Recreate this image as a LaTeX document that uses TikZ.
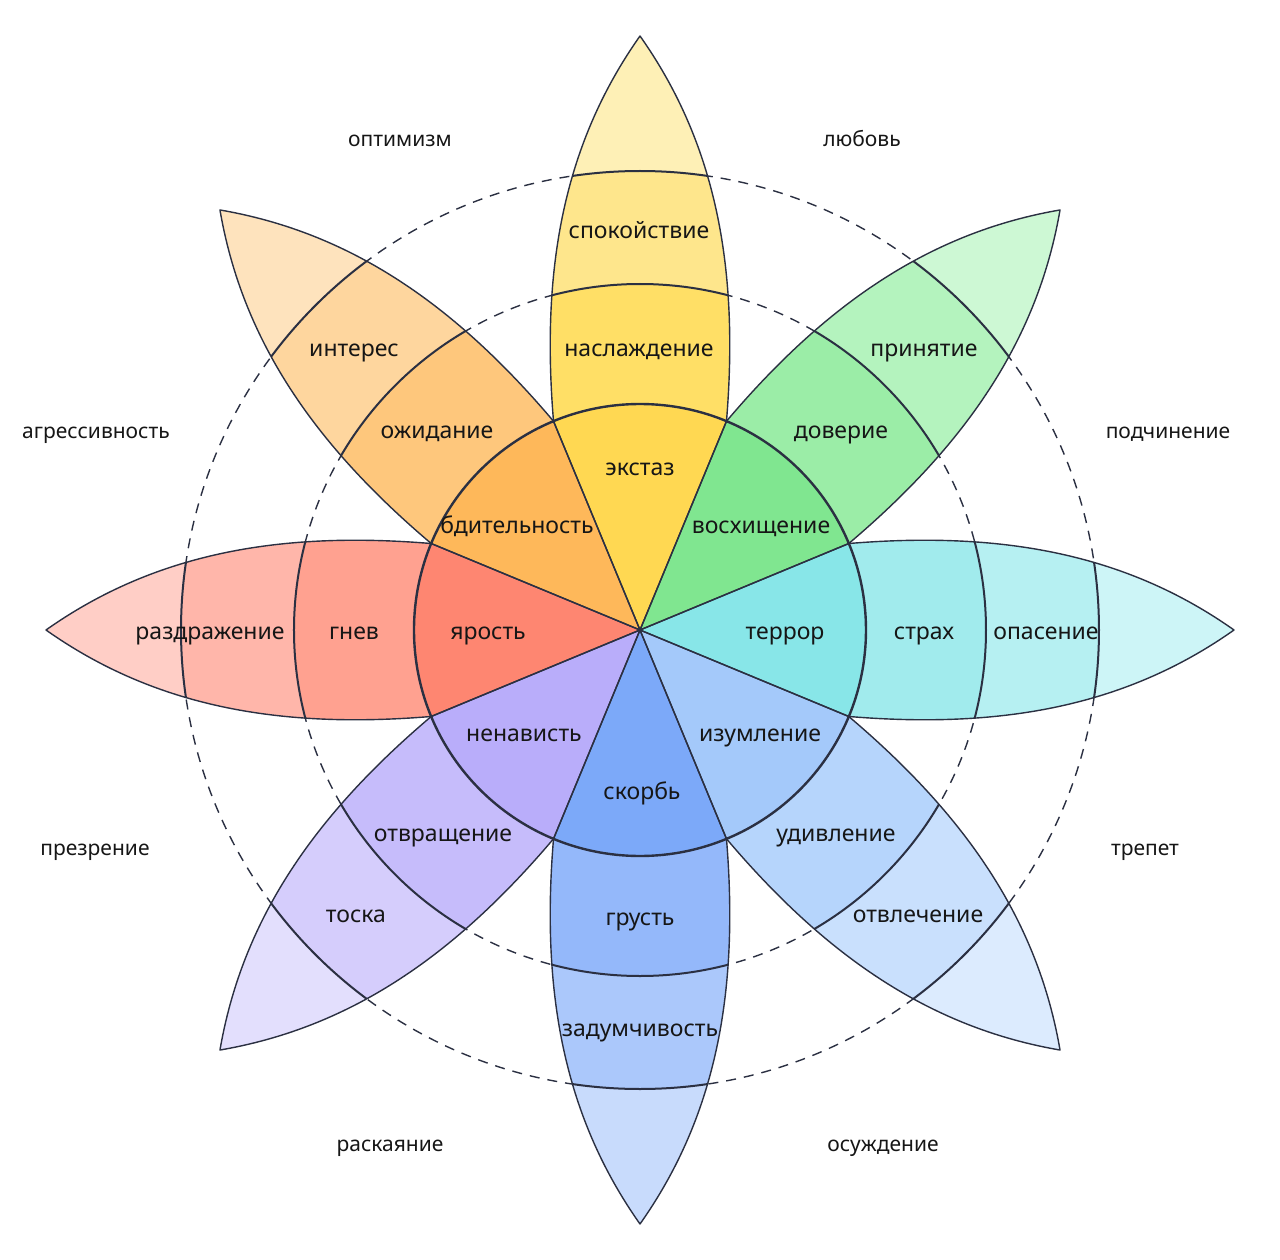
\documentclass[tikz,border=0pt]{standalone}
\usepackage{fontspec}
\setmainfont{Noto Sans}

\definecolor{inkline}{HTML}{2B3042}
\definecolor{inktext}{HTML}{161616}
% yellow
\definecolor{yelin}{HTML}{FFD852}
\definecolor{yelmid}{HTML}{FFDF66}
\definecolor{yelout}{HTML}{FEE68C}
\definecolor{yeltip}{HTML}{FEF0B6}
% green
\definecolor{grnin}{HTML}{80E690}
\definecolor{grnmid}{HTML}{9BEDA7}
\definecolor{grnout}{HTML}{B4F3BE}
\definecolor{grntip}{HTML}{CDF8D4}
% cyan
\definecolor{cynin}{HTML}{88E6E8}
\definecolor{cynmid}{HTML}{A1EBED}
\definecolor{cynout}{HTML}{B6F0F2}
\definecolor{cyntip}{HTML}{CDF5F7}
% light blue
\definecolor{skyin}{HTML}{A4C9FA}
\definecolor{skymid}{HTML}{B6D5FC}
\definecolor{skyout}{HTML}{C9E0FD}
\definecolor{skytip}{HTML}{DCEBFE}
% blue
\definecolor{bluin}{HTML}{7CA9F9}
\definecolor{blumid}{HTML}{94B8FA}
\definecolor{bluout}{HTML}{ABC8FB}
\definecolor{blutip}{HTML}{C8DBFC}
% violet
\definecolor{vioin}{HTML}{B9ADFA}
\definecolor{viomid}{HTML}{C6BCFB}
\definecolor{vioout}{HTML}{D5CDFC}
\definecolor{viotip}{HTML}{E3DFFD}
% red
\definecolor{redin}{HTML}{FE8671}
\definecolor{redmid}{HTML}{FFA190}
\definecolor{redout}{HTML}{FFB6AA}
\definecolor{redtip}{HTML}{FFCEC6}
% orange
\definecolor{orgin}{HTML}{FEB85A}
\definecolor{orgmid}{HTML}{FEC77C}
\definecolor{orgout}{HTML}{FED69E}
\definecolor{orgtip}{HTML}{FEE3BD}

\tikzset{
  guide ring/.style={draw=inkline, line width=0.7pt, dash pattern=on 5pt off 4pt},
  band line/.style={draw=inkline, line width=1pt},
  petal line/.style={draw=inkline, line width=0.7pt, line join=round},
  ring line/.style={draw=inkline, line width=1.2pt},
  emo/.style={inner sep=0pt, text height=1.55ex, text depth=0pt, text=inktext,
    font=\fontsize{11.5}{14}\selectfont},
  dyad/.style={emo, font=\fontsize{10.5}{13}\selectfont},
}
% one petal pointing along +x, wedge inside the ring
\newcommand{\petalpath}{(0,0) -- (-22.5:226) .. controls (360,-99) and (485,-77) .. (594,0) .. controls (485,77) and (360,99) .. (22.5:226) -- cycle}

\begin{document}
\begin{tikzpicture}[x=0.5pt,y=0.5pt]
\useasboundingbox (-640,-629) rectangle (640,630);

% dashed guide rings
\draw[guide ring] (0,0) circle (346);
\draw[guide ring] (0,0) circle (459);

% petal fills
\foreach \ang/\ctip/\cout/\cmid/\cin in {90/yeltip/yelout/yelmid/yelin, 45/grntip/grnout/grnmid/grnin,
    0/cyntip/cynout/cynmid/cynin, -45/skytip/skyout/skymid/skyin, -90/blutip/bluout/blumid/bluin,
    -135/viotip/vioout/viomid/vioin, 180/redtip/redout/redmid/redin, 135/orgtip/orgout/orgmid/orgin}{
  \begin{scope}[rotate=\ang]
    \fill[\ctip] \petalpath;
    \begin{scope}
      \clip \petalpath;
      \fill[\cout] (0,0) circle (459);
      \fill[\cmid] (0,0) circle (346);
      \fill[\cin] (0,0) circle (226);
    \end{scope}
  \end{scope}
}

% petal outlines and band borders
\foreach \ang in {90,45,0,-45,-90,-135,180,135}{
  \begin{scope}[rotate=\ang]
    \begin{scope}
      \clip \petalpath;
      \draw[band line] (0,0) circle (459) (0,0) circle (346);
    \end{scope}
    \draw[petal line] \petalpath;
  \end{scope}
}
\draw[ring line] (0,0) circle (226);

% inner ring
\node[emo] (ecstasy) at (0,163) {экстаз};
\node[emo] (vigilance) at (-123,105) {бдительность};
\node[emo] (admiration) at (121,105) {восхищение};
\node[emo] (rage) at (-152,-1) {ярость};
\node[emo] (terror) at (145,-1) {террор};
\node[emo] (loathing) at (-116,-103) {ненависть};
\node[emo] (amazement) at (120,-103) {изумление};
\node[emo] (grief) at (2,-161) {скорбь};

% middle ring
\node[emo] (joy) at (-1,282) {наслаждение};
\node[emo] (anticipation) at (-203,200) {ожидание};
\node[emo] (trust) at (201,200) {доверие};
\node[emo] (anger) at (-286,-1) {гнев};
\node[emo] (fear) at (284,-1) {страх};
\node[emo] (disgust) at (-197,-203) {отвращение};
\node[emo] (surprise) at (196,-203) {удивление};
\node[emo] (sadness) at (0,-287) {грусть};

% outer ring
\node[emo] (serenity) at (-1,400) {спокойствие};
\node[emo] (interest) at (-286,282) {интерес};
\node[emo] (acceptance) at (284,282) {принятие};
\node[emo] (annoyance) at (-430,-1) {раздражение};
\node[emo] (apprehension) at (406,-1) {опасение};
\node[emo] (boredom) at (-284,-284) {тоска};
\node[emo] (distraction) at (278,-284) {отвлечение};
\node[emo] (pensiveness) at (0,-398) {задумчивость};

% dyads
\node[dyad] (optimism) at (-240,492) {оптимизм};
\node[dyad] (love) at (222,492) {любовь};
\node[dyad] (aggressiveness) at (-544,200) {агрессивность};
\node[dyad] (submission) at (528,200) {подчинение};
\node[dyad] (contempt) at (-545,-217) {презрение};
\node[dyad] (awe) at (505,-217) {трепет};
\node[dyad] (remorse) at (-250,-513) {раскаяние};
\node[dyad] (disapproval) at (243,-513) {осуждение};
\end{tikzpicture}
\end{document}
